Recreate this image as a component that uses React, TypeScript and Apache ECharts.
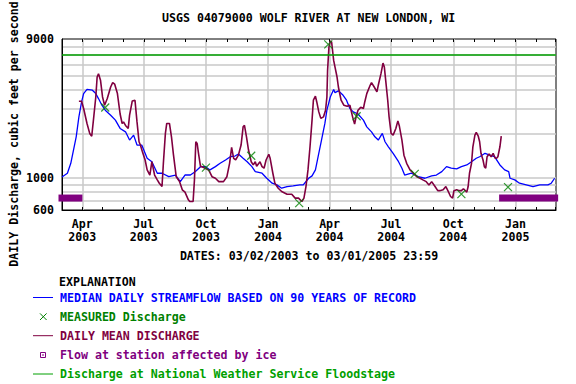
import React, { useEffect, useRef } from "react";
import * as echarts from "echarts";

const TITLE = "USGS 04079000 WOLF RIVER AT NEW LONDON, WI";
const X_NAME = "DATES: 03/02/2003 to 03/01/2005 23:59";
const Y_NAME = "DAILY Discharge, cubic feet per second";
const START_DATE = "2003-03-02";
const END_DATE = "2005-03-02";
const QUARTER_TICKS = [
  "2003-04-01", "2003-07-01", "2003-10-01", "2004-01-01",
  "2004-04-01", "2004-07-01", "2004-10-01", "2005-01-01",
];
const MONTH_NAMES = ["Jan", "Feb", "Mar", "Apr", "May", "Jun", "Jul", "Aug", "Sep", "Oct", "Nov", "Dec"];
const Y_MIN = 600;
const Y_MAX = 9000;
const Y_GRID_VALUES = [700, 800, 900, 1000, 2000, 3000, 4000, 5000, 6000, 7000, 8000];
const Y_LABEL_VALUES = [600, 1000, 9000];
const FLOODSTAGE_CFS = 7000;
const ICE_LEVEL_CFS = 725;
const ICE_PERIODS = [
  ["2003-03-02", "2003-03-27"],
  ["2004-12-13", "2005-02-28"],
];

// days since 2003-03-02
const MEDIAN_DAYS = [
  0, 8, 13, 17, 21, 25, 29, 32, 37, 45, 50, 54, 59, 64, 72, 79, 86, 94, 100, 106,
  111, 118, 126, 133, 141, 148, 158, 168, 175, 182, 190, 197, 205, 212, 219, 227, 234, 242, 249, 256,
  261, 268, 274, 281, 286, 296, 303, 311, 318, 325, 333, 342, 352, 357, 365, 370, 375, 379, 384, 389,
  392, 397, 402, 404, 409, 416, 421, 426, 431, 438, 446, 451, 458, 463, 468, 474, 478, 483, 490, 498,
  503, 507, 517, 527, 537, 547, 554, 562, 569, 576, 584, 591, 599, 606, 613, 618, 626, 633, 640, 648,
  655, 661, 663, 670, 677, 687, 697, 707, 719, 724, 729,
];
const MEDIAN_CFS = [
  1013, 1074, 1257, 1551, 1912, 2623, 3321, 3792, 4058, 4000, 3792, 3504, 3153, 2914, 2693, 2490, 2183, 2069, 1816, 1965,
  1678, 1678, 1361, 1289, 1074, 1074, 1017, 1044, 940, 1044, 1044, 1101, 1192, 1192, 1132, 1192, 1257, 1325, 1395, 1410,
  1456, 1361, 1289, 1192, 1101, 1074, 992, 917, 893, 847, 870, 880, 893, 893, 992, 1030, 1132, 1395, 1816, 2362,
  2914, 3594, 4040, 3850, 3960, 3690, 3413, 2994, 2838, 2745, 2490, 2239, 2069, 1912, 1816, 2018, 1768, 1633, 1473, 1289,
  1163, 1044, 1074, 1017, 992, 1030, 1044, 1101, 1192, 1163, 1150, 1192, 1225, 1289, 1361, 1395, 1473, 1430, 1395, 1225,
  1132, 1101, 992, 967, 917, 893, 870, 893, 893, 917, 992,
];

const DAILY_DAYS = [
  25, 29, 32, 37, 41, 44, 47, 50, 52, 54, 57, 60, 63, 67, 72, 75, 78, 82, 86, 89,
  91, 94, 98, 100, 104, 108, 111, 114, 116, 119, 123, 126, 130, 133, 137, 141, 144, 148, 150, 153,
  155, 159, 162, 165, 169, 174, 178, 182, 187, 189, 194, 196, 198, 200, 202, 205, 207, 212, 217, 222,
  227, 232, 239, 244, 248, 251, 254, 257, 261, 265, 268, 270, 273, 276, 280, 283, 286, 288, 293, 296,
  299, 302, 306, 308, 312, 315, 320, 325, 333, 340, 345, 350, 355, 358, 361, 364, 367, 370, 372, 375,
  377, 380, 383, 387, 390, 392, 393, 395, 397, 399, 402, 404, 407, 409, 413, 417, 422, 426, 430, 433,
  435, 438, 442, 446, 448, 451, 456, 458, 462, 466, 468, 472, 475, 477, 479, 482, 484, 487, 490, 494,
  497, 499, 503, 506, 510, 515, 520, 525, 530, 534, 539, 543, 547, 552, 556, 559, 564, 568, 571, 575,
  578, 580, 584, 588, 591, 594, 599, 601, 603, 606, 608, 611, 613, 616, 618, 620, 623, 625, 627, 629,
  632, 635, 638, 641, 643, 645, 648, 650,
];
const DAILY_CFS = [
  3357, 3357, 2994, 2362, 2018, 1930, 2623, 3594, 4929, 5196, 4678, 3594, 3153, 3504, 4209, 4511, 4400, 3792, 2745, 2362,
  2420, 2290, 2183, 2693, 3375, 3413, 2420, 1768, 1678, 1510, 1325, 1132, 1044, 1289, 1044, 967, 917, 870, 1257, 2018,
  2362, 2362, 1912, 1430, 1017, 940, 826, 796, 705, 686, 686, 967, 1768, 1720, 1473, 1192, 1192, 1163, 1132, 1017,
  992, 940, 940, 1017, 1257, 1618, 1361, 1325, 1430, 1678, 2239, 2290, 1912, 1551, 1289, 1225, 1289, 1200, 1289, 1192,
  1163, 1325, 1450, 1361, 1074, 917, 847, 804, 770, 770, 724, 724, 686, 724, 870, 1132, 1633, 2490, 3413, 3640,
  3321, 2838, 2560, 2623, 2914, 3594, 5478, 7910, 8695, 8550, 6413, 5770, 4929, 4209, 3413, 3153, 3100, 3153, 2623, 2337,
  2600, 2914, 3050, 2994, 3321, 3792, 4323, 4511, 4209, 3900, 4323, 5196, 6150, 5770, 4678, 3413, 2623, 2018, 1965, 2183,
  2462, 2290, 1816, 1430, 1257, 1132, 1074, 1017, 992, 967, 940, 893, 940, 870, 815, 815, 826, 870, 815, 743,
  724, 815, 826, 815, 815, 840, 796, 870, 1074, 1257, 1633, 1965, 2050, 1930, 1768, 1473, 1325, 1192, 1163, 1395,
  1456, 1395, 1473, 1361, 1361, 1395, 1633, 1930,
];

const MEASURED_DAYS = [64, 213, 280, 351, 394, 436, 522, 591, 660];
const MEASURED_CFS = [3040, 1175, 1417, 669, 8260, 2650, 1062, 771, 861];

const FONT = "'DejaVu Sans Mono', 'Liberation Mono', monospace";
const FS = 11.6;
const GRID_COLOR = "#c8c8c8";
const BLUE = "#0000ff";
const MAROON = "#800040";
const MEAS_GREEN = "#008000";
const FLOOD_GREEN = "#00a000";
const PURPLE = "#800080";
const DAY_MS = 86400000;

function parseDate(s: string): number {
  const [y, m, d] = s.split("-").map(Number);
  return new Date(y, m - 1, d).getTime();
}

export default function App() {
  const ref = useRef<HTMLDivElement>(null);

  useEffect(() => {
    if (!ref.current) return;
    const chart = echarts.init(ref.current, undefined, { renderer: "svg" });
    const start = parseDate(START_DATE);
    const end = parseDate(END_DATE);
    const toMs = (day: number) => start + day * DAY_MS;
    const quarterMs = QUARTER_TICKS.map(parseDate);
    const monthMs: number[] = [];
    for (let d = new Date(2003, 3, 1); d.getTime() < end; d = new Date(d.getFullYear(), d.getMonth() + 1, 1)) {
      monthMs.push(d.getTime());
    }
    const txt = { fontFamily: FONT, fontSize: FS, fontWeight: "bold" as const };

    const median = MEDIAN_DAYS.map((d, i) => [toMs(d), MEDIAN_CFS[i]]);
    const daily = DAILY_DAYS.map((d, i) => [toMs(d), DAILY_CFS[i]]);
    const measured = MEASURED_DAYS.map((d, i) => [toMs(d), MEASURED_CFS[i]]);

    const iceSeries = ICE_PERIODS.map(([a, b]) => ({
      type: "line",
      name: "ice",
      data: [[parseDate(a), ICE_LEVEL_CFS], [parseDate(b), ICE_LEVEL_CFS]],
      symbol: "none",
      clip: false,
      silent: true,
      lineStyle: { color: PURPLE, width: 7, cap: "square" },
      z: 2,
    }));

    const tickAxis = (position: string) => ({
      type: "value",
      min: start,
      max: end,
      position,
      axisLine: { show: false },
      axisTick: { show: true, inside: true, length: 3, customValues: monthMs, lineStyle: { color: "#000", width: 1 } },
      axisLabel: { show: false },
      splitLine: { show: false },
    });

    const legendRows = [
      { y: 297.5, text: "MEDIAN DAILY STREAMFLOW BASED ON 90 YEARS OF RECORD", color: BLUE, sym: "line" },
      { y: 316.7, text: "MEASURED Discharge", color: MEAS_GREEN, sym: "x" },
      { y: 335.7, text: "DAILY MEAN DISCHARGE", color: MAROON, sym: "line" },
      { y: 355, text: "Flow at station affected by ice", color: PURPLE, sym: "box" },
      { y: 374, text: "Discharge at National Weather Service Floodstage", color: FLOOD_GREEN, sym: "line" },
    ];
    const legendEls: any[] = [
      {
        type: "text", x: 59, y: 281.7,
        style: { text: "EXPLANATION", fill: "#000", font: `bold ${FS}px ${FONT}`, verticalAlign: "middle" },
      },
    ];
    legendRows.forEach((r) => {
      legendEls.push({
        type: "text",
        x: 60,
        y: r.y,
        style: { text: r.text, fill: r.color, font: `bold ${FS}px ${FONT}`, verticalAlign: "middle" },
      });
      if (r.sym === "line") {
        legendEls.push({ type: "line", shape: { x1: 33, y1: r.y, x2: 53, y2: r.y }, style: { stroke: r.color, lineWidth: 1 } });
      } else if (r.sym === "x") {
        legendEls.push({ type: "line", shape: { x1: 40, y1: r.y - 3.3, x2: 46.6, y2: r.y + 3.3 }, style: { stroke: r.color, lineWidth: 1 } });
        legendEls.push({ type: "line", shape: { x1: 46.6, y1: r.y - 3.3, x2: 40, y2: r.y + 3.3 }, style: { stroke: r.color, lineWidth: 1 } });
      } else {
        legendEls.push({ type: "rect", shape: { x: 40.5, y: r.y - 2.5, width: 5, height: 5 }, style: { stroke: r.color, fill: "none", lineWidth: 1 } });
        legendEls.push({ type: "rect", shape: { x: 42.3, y: r.y - 0.7, width: 1.4, height: 1.4 }, style: { fill: r.color } });
      }
    });

    const option: any = {
      animation: false,
      backgroundColor: "#fff",
      title: {
        text: TITLE,
        left: 162,
        top: 12,
        padding: 0,
        textStyle: { ...txt, color: "#000" },
      },
      grid: {
        left: 62, right: 20, top: 39, bottom: 174,
        show: true, borderColor: "#000", borderWidth: 1, backgroundColor: "transparent",
        containLabel: false, outerBoundsMode: "none",
      },
      xAxis: [
        {
          type: "value",
          min: start,
          max: end,
          position: "bottom",
          name: X_NAME,
          nameLocation: "middle",
          nameGap: 40,
          nameTextStyle: { ...txt, color: "#000" },
          axisLine: { show: true, lineStyle: { color: "#000", width: 1 } },
          axisTick: { show: false, customValues: quarterMs },
          axisLabel: {
            customValues: quarterMs,
            formatter: (v: number) => {
              const d = new Date(v);
              return `${MONTH_NAMES[d.getMonth()]}\n${d.getFullYear()}`;
            },
            margin: 7,
            lineHeight: 13.5,
            color: "#000",
            ...txt,
          },
          splitLine: { show: true, lineStyle: { color: GRID_COLOR, width: 1.5 } },
        },
        tickAxis("bottom"),
        tickAxis("top"),
      ],
      yAxis: {
        type: "log",
        logBase: 10,
        min: Y_MIN,
        max: Y_MAX,
        axisLine: { show: true, lineStyle: { color: "#000", width: 1 } },
        axisTick: { show: false, customValues: Y_GRID_VALUES },
        axisLabel: {
          customValues: Y_LABEL_VALUES,
          formatter: (v: number) => String(Math.round(v)),
          margin: 8,
          color: "#000",
          ...txt,
        },
        splitLine: { show: true, lineStyle: { color: GRID_COLOR, width: 1.5 } },
      },
      graphic: [
        {
          type: "text",
          x: 14,
          y: 134,
          rotation: Math.PI / 2,
          style: { text: Y_NAME, fill: "#000", font: `bold ${FS}px ${FONT}`, align: "center", verticalAlign: "middle" },
        },
        ...legendEls,
      ],
      series: [
        ...iceSeries,
        {
          type: "line",
          name: "MEDIAN DAILY STREAMFLOW",
          data: median,
          symbol: "none",
          lineStyle: { color: BLUE, width: 1.3 },
          z: 3,
          markLine: {
            silent: true,
            symbol: ["none", "none"],
            label: { show: false },
            lineStyle: { color: FLOOD_GREEN, width: 1.5, type: "solid" },
            data: [{ yAxis: FLOODSTAGE_CFS }],
          },
        },
        {
          type: "line",
          name: "DAILY MEAN DISCHARGE",
          data: daily,
          symbol: "none",
          lineStyle: { color: MAROON, width: 1.6 },
          z: 4,
        },
        {
          type: "scatter",
          name: "MEASURED Discharge",
          data: measured,
          symbol: "path://M0,0L10,10M10,0L0,10",
          symbolSize: 8,
          itemStyle: { color: "transparent", borderColor: MEAS_GREEN, borderWidth: 1.2 },
          z: 5,
        },
      ],
    };
    chart.setOption(option);
    return () => chart.dispose();
  }, []);

  return <div ref={ref} style={{ position: "absolute", left: 0, top: 0, width: 576, height: 384 }} />;
}
